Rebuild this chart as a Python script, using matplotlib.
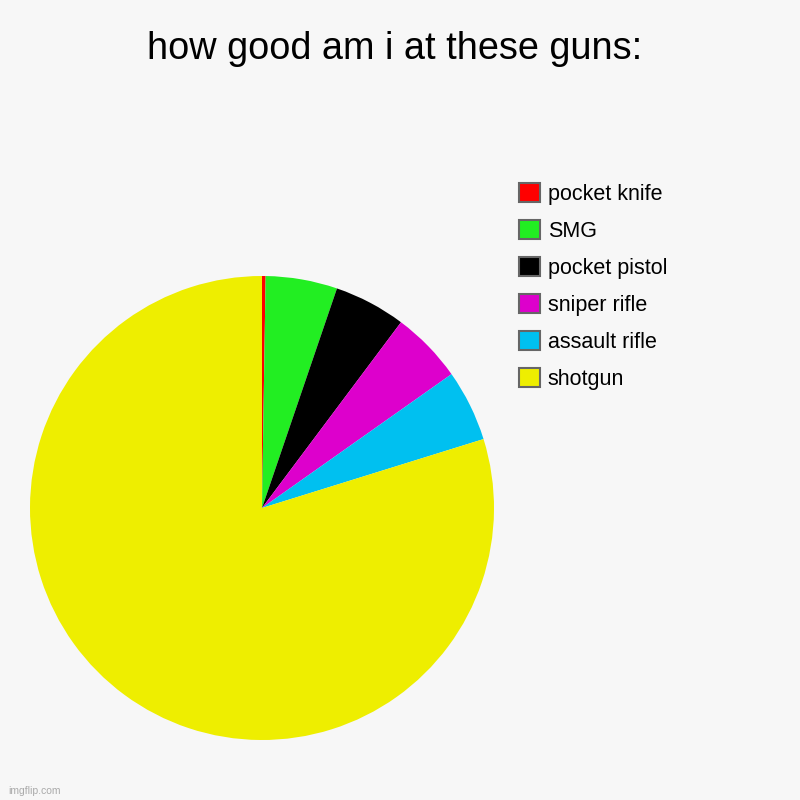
import matplotlib
matplotlib.use("Agg")
import matplotlib.pyplot as plt
from matplotlib.patches import Patch

labels = ["pocket knife", "SMG", "pocket pistol", "sniper rifle", "assault rifle", "shotgun"]
values = [1, 20, 20, 20, 20, 320]
colors = ["#ff0000", "#22ee22", "#000000", "#dd00cc", "#00c0f0", "#eeee00"]

BG = "#f7f7f7"
plt.rcParams["font.family"] = ["Liberation Sans", "DejaVu Sans"]

fig = plt.figure(figsize=(8, 8), dpi=100, facecolor=BG)
ax = fig.add_axes([30 / 800, 60 / 800, 464 / 800, 464 / 800])
ax.set_facecolor(BG)
ax.pie(values, colors=colors, startangle=90, counterclock=False,
       radius=1, wedgeprops=dict(linewidth=0))
ax.set_xlim(-1, 1)
ax.set_ylim(-1, 1)
ax.set_aspect("equal")
ax.axis("off")

fig.text(395 / 800, 1 - 49 / 800, "how good am i at these guns:",
         ha="center", va="center", fontsize=27.3, color="#000000")

handles = [Patch(facecolor=c, edgecolor="#666666", linewidth=1.5) for c in colors]
fig.legend(handles, labels, loc="upper left",
           bbox_to_anchor=(508 / 800, 1 - 172 / 800), frameon=False,
           fontsize=15.5, handlelength=1.0, handleheight=1.0,
           handletextpad=0.35, labelspacing=0.70, borderpad=0)

fig.text(8 / 800, 1 - 791 / 800, "imgflip.com", fontsize=7.5, color="#aaaaaa",
         ha="left", va="center")

fig.savefig("out.png", dpi=100, facecolor=BG)
